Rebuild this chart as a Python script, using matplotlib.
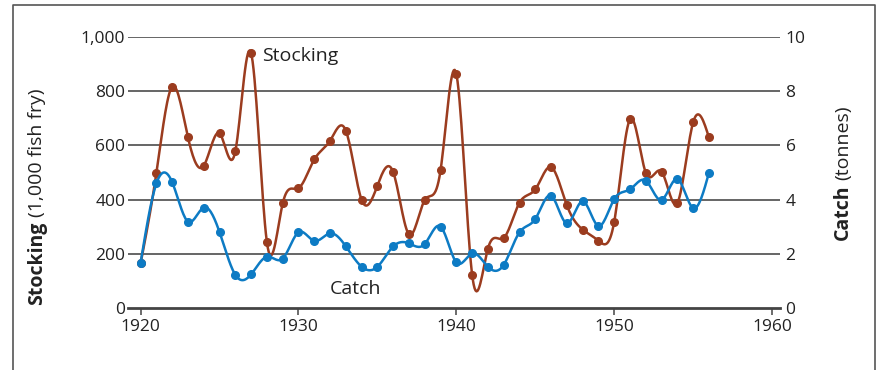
import matplotlib
matplotlib.use("Agg")
import matplotlib.pyplot as plt
import numpy as np

plt.rcParams['font.family'] = ['Open Sans', 'DejaVu Sans']

years = np.arange(1920, 1957)
stocking = [166, 499, 816, 629, 525, 644, 579, 939, 243, 386,
            442, 548, 617, 654, 399, 452, 501, 272, 399, 509,
            862, 123, 220, 259, 389, 438, 520, 379, 290, 249,
            319, 696, 499, 503, 388, 685, 629]
catch = [1.68, 4.60, 4.64, 3.19, 3.71, 2.80, 1.23, 1.25, 1.90, 1.83,
         2.80, 2.48, 2.76, 2.28, 1.53, 1.53, 2.28, 2.39, 2.37, 3.01,
         1.69, 2.02, 1.53, 1.60, 2.80, 3.29, 4.15, 3.13, 3.94, 3.03,
         4.02, 4.38, 4.70, 3.99, 4.76, 3.69, 4.99]
xticks = [1920, 1930, 1940, 1950, 1960]
left_ticks = [0, 200, 400, 600, 800, 1000]
right_ticks = [0, 2, 4, 6, 8, 10]

brown = '#9b3c1f'
blue = '#0d7bc4'
grid = '#3c3c3c'
txt = '#222222'
fs = 12.5
fs_lab = 14


def smooth(x, y, n=600):
    # natural cubic spline through the points, only for drawing the line
    x = np.asarray(x, float)
    y = np.asarray(y, float)
    m = len(x)
    h = np.diff(x)
    A = np.zeros((m, m))
    r = np.zeros(m)
    A[0, 0] = A[-1, -1] = 1
    for i in range(1, m - 1):
        A[i, i - 1] = h[i - 1]
        A[i, i] = 2 * (h[i - 1] + h[i])
        A[i, i + 1] = h[i]
        r[i] = 3 * ((y[i + 1] - y[i]) / h[i] - (y[i] - y[i - 1]) / h[i - 1])
    c = np.linalg.solve(A, r)
    b = (y[1:] - y[:-1]) / h - h * (2 * c[:-1] + c[1:]) / 3
    d = (c[1:] - c[:-1]) / (3 * h)
    xs = np.linspace(x[0], x[-1], n)
    k = np.clip(np.searchsorted(x, xs) - 1, 0, m - 2)
    t = xs - x[k]
    ys = y[k] + b[k] * t + c[k] * t ** 2 + d[k] * t ** 3
    return xs, ys


fig = plt.figure(figsize=(8.76, 3.70), dpi=100)
ax = fig.add_axes([128 / 876, 1 - 308.3 / 370, (780 - 128) / 876, (308.3 - 36.7) / 370])
ax.set_xlim(1919.2, 1960.5)
ax.set_ylim(0, 1000)

for v in left_ticks[1:]:
    ax.axhline(v, color=grid, lw=1.1, zorder=1)
ax.axhline(0, color='#444444', lw=2.0, zorder=1, clip_on=False)

xs, ys = smooth(years, stocking)
ax.plot(xs, ys, color=brown, lw=1.8, zorder=3, clip_on=False)
ax.plot(years, stocking, 'o', color=brown, ms=5.5, zorder=4, clip_on=False)

for s in ax.spines.values():
    s.set_visible(False)
ax.set_xticks(xticks)
ax.tick_params(axis='x', length=5, width=1.1, color='#444444', pad=3, labelsize=fs, labelcolor=txt)
ax.set_yticks(left_ticks)
ax.set_yticklabels(['0', '200', '400', '600', '800', '1,000'])
ax.tick_params(axis='y', length=0, pad=2, labelsize=fs, labelcolor=txt)

ax2 = ax.twinx()
ax2.set_ylim(0, 10)
for s in ax2.spines.values():
    s.set_visible(False)
xs, ys = smooth(years, catch)
ax2.plot(xs, ys, color=blue, lw=1.8, zorder=3, clip_on=False)
ax2.plot(years, catch, 'o', color=blue, ms=5.5, zorder=4, clip_on=False)
ax2.set_yticks(right_ticks)
ax2.tick_params(axis='y', length=0, pad=4, labelsize=fs, labelcolor=txt)

ax.text(1927.68, 929, 'Stocking', fontsize=fs_lab, color=txt, va='center', ha='left')
ax.text(1931.98, 71, 'Catch', fontsize=fs_lab, color=txt, va='center', ha='left')


# axis titles: bold word, then regular units placed right after it
def vlabel(x_px, bottom_px, bold, rest):
    r = fig.canvas.get_renderer()
    t1 = fig.text(x_px / 876, 1 - bottom_px / 370, bold, rotation=90, ha='center', va='bottom',
                  fontsize=fs_lab, fontweight='bold', color=txt)
    top = t1.get_window_extent(r).y1
    fig.text(x_px / 876, (top + 5) / 370, rest, rotation=90, ha='center', va='bottom',
             fontsize=fs_lab, color=txt)


vlabel(37, 305, 'Stocking', '(1,000 fish fry)')
vlabel(843, 240, 'Catch', '(tonnes)')

# frame around the figure (open at the bottom)
bx = [13 / 876, 13 / 876, 875 / 876, 875 / 876]
by = [0, 1 - 5 / 370, 1 - 5 / 370, 0]
fig.add_artist(plt.Line2D(bx, by, transform=fig.transFigure, color='#555555', lw=1.2))

fig.savefig('out.png', dpi=100)
